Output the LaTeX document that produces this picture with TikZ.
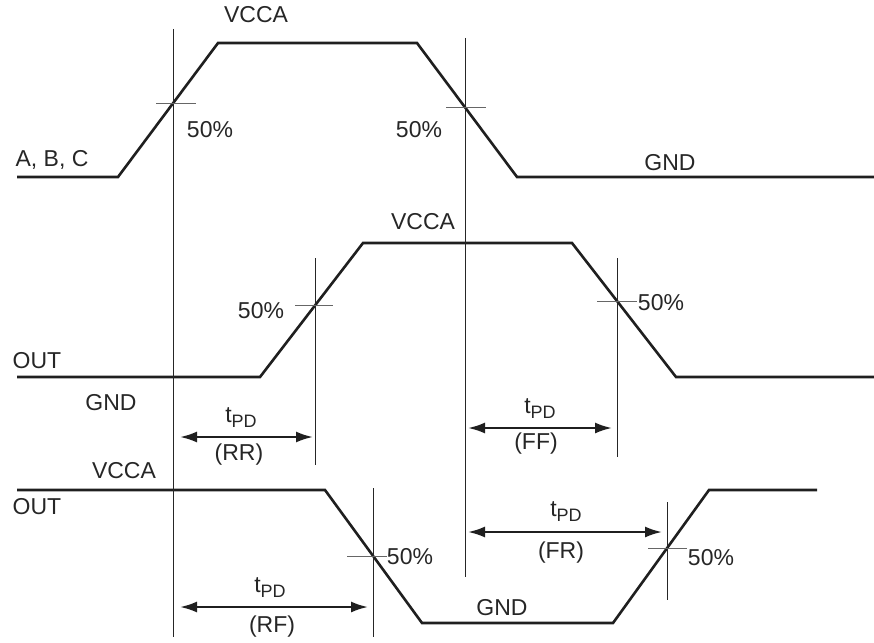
\documentclass[tikz,border=0pt]{standalone}
\usepackage{fontspec}
\setmainfont{Liberation Sans}
\usetikzlibrary{arrows.meta}
\newcommand{\tpdlabel}{t\raisebox{-5pt}{\fontsize{18}{20}\selectfont PD}}
\begin{document}
\begin{tikzpicture}[x=1pt,y=-1pt,
 wave/.style={line width=2.6pt, color=black!88, line join=miter},
 guide/.style={line width=1pt, black!85},
 tickmark/.style={line width=1pt, black!60},
 dim/.style={line width=2.2pt, black!88, {Latex[length=17pt,width=11pt]}-{Latex[length=17pt,width=11pt]}},
 lbl/.style={font=\fontsize{23}{26}\selectfont, inner sep=0pt, text=black!85}]
\useasboundingbox (0,0) rectangle (874,642);

% ---------- waveform 1: A, B, C ----------
\coordinate (a0) at (17,177);
\coordinate (a1) at (118,177);
\coordinate (a2) at (218,43);
\coordinate (a3) at (417,43);
\coordinate (a4) at (517,177);
\coordinate (a5) at (874,177);
\draw[wave] (a0) -- (a1) -- (a2) -- (a3) -- (a4) -- (a5);

% ---------- waveform 2: OUT (in phase) ----------
\coordinate (b0) at (17,377);
\coordinate (b1) at (260,377);
\coordinate (b2) at (363,243);
\coordinate (b3) at (572,243);
\coordinate (b4) at (676,377);
\coordinate (b5) at (874,377);
\draw[wave] (b0) -- (b1) -- (b2) -- (b3) -- (b4) -- (b5);

% ---------- waveform 3: OUT (inverted) ----------
\coordinate (c0) at (17,490);
\coordinate (c1) at (325,490);
\coordinate (c2) at (422,623);
\coordinate (c3) at (613,623);
\coordinate (c4) at (709,490);
\coordinate (c5) at (817,490);
\draw[wave] (c0) -- (c1) -- (c2) -- (c3) -- (c4) -- (c5);

% ---------- guide lines ----------
\coordinate (g1t) at (173,29);  \coordinate (g1b) at (173,637);
\coordinate (g2t) at (465,38);  \coordinate (g2b) at (465,577);
\coordinate (g3t) at (315,258); \coordinate (g3b) at (315,465);
\coordinate (g4t) at (617,258); \coordinate (g4b) at (617,457);
\coordinate (g5t) at (373,488); \coordinate (g5b) at (373,637);
\coordinate (g6t) at (667,502); \coordinate (g6b) at (667,600);
\foreach \g in {1,...,6} \draw[guide] (g\g t) -- (g\g b);

% ---------- 50% tick marks ----------
\coordinate (k1l) at (156,103); \coordinate (k1r) at (196,103);
\coordinate (k2l) at (446,107); \coordinate (k2r) at (486,107);
\coordinate (k3l) at (295,305); \coordinate (k3r) at (333,305);
\coordinate (k4l) at (597,301); \coordinate (k4r) at (637,301);
\coordinate (k5l) at (347,556); \coordinate (k5r) at (387,556);
\coordinate (k6l) at (648,548); \coordinate (k6r) at (687,548);
\foreach \k in {1,...,6} \draw[tickmark] (k\k l) -- (k\k r);

% ---------- dimension arrows ----------
\coordinate (rrL) at (180,437); \coordinate (rrR) at (313,437);
\coordinate (ffL) at (468,428); \coordinate (ffR) at (612,428);
\coordinate (rfL) at (180,607); \coordinate (rfR) at (368,607);
\coordinate (frL) at (468,532); \coordinate (frR) at (662,532);
\draw[dim] (rrL) -- (rrR);
\draw[dim] (ffL) -- (ffR);
\draw[dim] (rfL) -- (rfR);
\draw[dim] (frL) -- (frR);

% ---------- labels ----------
\node[lbl] (vcca1) at (256,15) {VCCA};
\node[lbl] (abc) at (52,160) {A, B, C};
\node[lbl] (p1) at (210,130) {50\%};
\node[lbl] (p2) at (419,130) {50\%};
\node[lbl] (gnd1) at (670,163) {GND};

\node[lbl] (vcca2) at (423,222) {VCCA};
\node[lbl] (out1) at (37,361) {OUT};
\node[lbl] (gnd2) at (111,403) {GND};
\node[lbl] (p3) at (261,311) {50\%};
\node[lbl] (p4) at (661,303) {50\%};

\node[lbl] (t1) at (241,418) {\tpdlabel};
\node[lbl] (rr) at (239,455) {(RR)};
\node[lbl] (t2) at (540,409) {\tpdlabel};
\node[lbl] (ff) at (536,444) {(FF)};

\node[lbl] (vcca3) at (124,471) {VCCA};
\node[lbl] (out2) at (37,507) {OUT};
\node[lbl] (p5) at (410,557) {50\%};
\node[lbl] (p6) at (711,558) {50\%};
\node[lbl] (gnd3) at (502,608) {GND};

\node[lbl] (t3) at (270,588) {\tpdlabel};
\node[lbl] (rf) at (272,627) {(RF)};
\node[lbl] (t4) at (566,512) {\tpdlabel};
\node[lbl] (fr) at (561,553) {(FR)};
\end{tikzpicture}
\end{document}
